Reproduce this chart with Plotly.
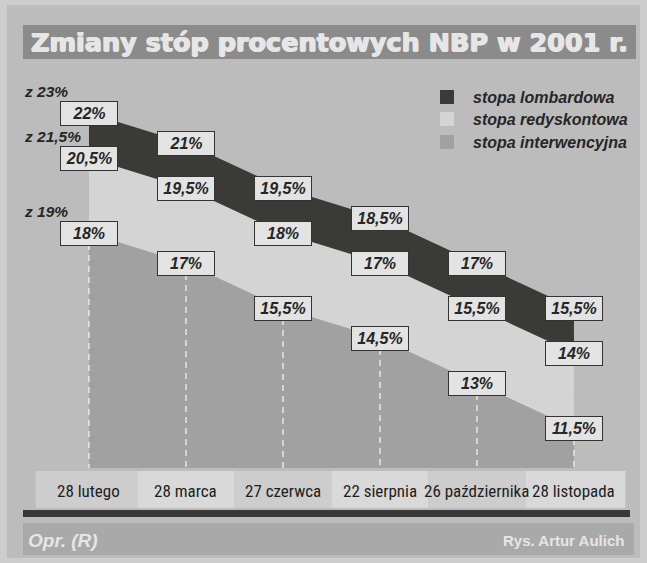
import plotly.graph_objects as go

# ---- data ----
dates = ["28 lutego", "28 marca", "27 czerwca", "22 sierpnia", "26 października", "28 listopada"]
lombardowa = [22, 21, 19.5, 18.5, 17, 15.5]
redyskontowa = [20.5, 19.5, 18, 17, 15.5, 14]
interwencyjna = [18, 17, 15.5, 14.5, 13, 11.5]
previous_labels = ["z 23%", "z 21,5%", "z 19%"]
previous_values = [23, 21.5, 19]
series_names = ["stopa lombardowa", "stopa redyskontowa", "stopa interwencyjna"]
title_text = "Zmiany stóp procentowych NBP w 2001 r."
footer_left = "Opr. (R)"
footer_right = "Rys. Artur Aulich"

# ---- layout constants ----
W, H = 647, 563
BASE = 10.17          # bottom of the filled areas (value scale)
X_RANGE = [-0.9175, 5.753]
Y_RANGE = [7.0, 25.767]

C_BG_OUT = "#cdcdcd"
C_PANEL = "#bcbcbc"
C_LOMB = "#3a3a36"
C_REDY = "#d4d4d4"
C_INTW = "#a1a1a1"
C_TEXT = "#262626"
C_BOX = "#e3e3e3"
DATE_FONT = "Roboto Condensed, DejaVu Sans Condensed, Liberation Sans Narrow, sans-serif"

def px(x):
    return x / W

def py(y):
    return 1 - y / H

def fmt(v):
    s = ("%g" % v).replace(".", ",")
    return s + "%"

xs = list(range(len(dates)))

fig = go.Figure()
fig.add_trace(go.Scatter(x=xs, y=[BASE] * len(xs), mode="lines",
                         line=dict(width=0), hoverinfo="skip", showlegend=False))
fig.add_trace(go.Scatter(x=xs, y=interwencyjna, mode="lines", fill="tonexty",
                         fillcolor=C_INTW, line=dict(width=0, color=C_INTW),
                         name=series_names[2], showlegend=False))
fig.add_trace(go.Scatter(x=xs, y=redyskontowa, mode="lines", fill="tonexty",
                         fillcolor=C_REDY, line=dict(width=0, color=C_REDY),
                         name=series_names[1], showlegend=False))
fig.add_trace(go.Scatter(x=xs, y=lombardowa, mode="lines", fill="tonexty",
                         fillcolor=C_LOMB, line=dict(width=0, color=C_LOMB),
                         name=series_names[0], showlegend=False))

shapes = []
annotations = []

# panel
shapes.append(dict(type="rect", xref="paper", yref="paper", x0=px(7), x1=px(640),
                   y0=py(558), y1=py(5), fillcolor=C_PANEL, line=dict(width=0), layer="below"))
# title bar
shapes.append(dict(type="rect", xref="paper", yref="paper", x0=px(23), x1=px(636),
                   y0=py(59), y1=py(25), fillcolor="#8b8b8b", line=dict(width=0), layer="below"))
annotations.append(dict(xref="paper", yref="paper", x=px(329), y=py(42), text="<b>" + title_text + "</b>",
                        showarrow=False, xanchor="center", yanchor="middle",
                        font=dict(family="DejaVu Sans", size=25.5, color="#e6e6e6",
                                  shadow="0.7px 0 0 #e6e6e6, -0.7px 0 0 #e6e6e6, 0 0.5px 0 #e6e6e6")))

# dashed verticals in interwencyjna area
for i, v in zip(xs, interwencyjna):
    shapes.append(dict(type="line", xref="x", yref="y", x0=i, x1=i, y0=v, y1=BASE,
                       line=dict(color="#e6e6e6", width=1.5, dash="6px,5px"), layer="above"))

# date band cells
for i, d in enumerate(dates):
    shapes.append(dict(type="rect", xref="x", yref="paper", x0=i - 0.55 if i == 0 else i - 0.5,
                       x1=i + 0.5 if i < len(dates) - 1 else i + 0.53,
                       y0=py(508), y1=py(471),
                       fillcolor="#cdcdcd" if i % 2 == 0 else "#d9d9d9",
                       line=dict(width=0), layer="above"))
    annotations.append(dict(xref="x", yref="paper", x=i, y=py(491), text=d, showarrow=False,
                            xanchor="center", yanchor="middle",
                            font=dict(family=DATE_FONT, size=17, color="#1e1e1e")))
# dark rule
shapes.append(dict(type="rect", xref="paper", yref="paper", x0=px(23), x1=px(630),
                   y0=py(517), y1=py(510), fillcolor="#383838", line=dict(width=0), layer="above"))
# footer bar
shapes.append(dict(type="rect", xref="paper", yref="paper", x0=px(23), x1=px(634),
                   y0=py(555), y1=py(523), fillcolor="#a9a9a9", line=dict(width=0), layer="above"))
annotations.append(dict(xref="paper", yref="paper", x=px(26), y=py(540), text="<b><i>" + footer_left + "</i></b>",
                        showarrow=False, xanchor="left", yanchor="middle",
                        font=dict(family="Liberation Sans", size=19, color="#e6e6e6")))
annotations.append(dict(xref="paper", yref="paper", x=px(626), y=py(540), text="<b>" + footer_right + "</b>",
                        showarrow=False, xanchor="right", yanchor="middle",
                        font=dict(family="Liberation Sans", size=15, color="#e6e6e6")))

# legend
leg_colors = [C_LOMB, C_REDY, C_INTW]
leg_y = [97, 119, 142]
for name, col, yy in zip(series_names, leg_colors, leg_y):
    shapes.append(dict(type="rect", xref="paper", yref="paper", x0=px(440), x1=px(454),
                       y0=py(yy + 7), y1=py(yy - 7), fillcolor=col, line=dict(width=0), layer="above"))
    annotations.append(dict(xref="paper", yref="paper", x=px(471), y=py(yy), text="<b><i>" + name + "</i></b>",
                            showarrow=False, xanchor="left", yanchor="middle",
                            font=dict(family="Liberation Sans", size=16, color=C_TEXT)))

# previous-rate labels
for lab, v in zip(previous_labels, previous_values):
    annotations.append(dict(xref="paper", yref="y", x=px(22), y=v, yshift=-8, text="<b><i>" + lab + "</i></b>",
                            showarrow=False, xanchor="left", yanchor="middle",
                            font=dict(family="Liberation Sans", size=15.5, color=C_TEXT)))

# value boxes
for series in (lombardowa, redyskontowa, interwencyjna):
    for i, v in zip(xs, series):
        annotations.append(dict(xref="x", yref="y", x=i, y=v, text="<b><i>" + fmt(v) + "</i></b>",
                                showarrow=False, xanchor="center", yanchor="middle",
                                width=54, height=21, borderpad=1, borderwidth=1,
                                bordercolor="#333333", bgcolor=C_BOX,
                                font=dict(family="Liberation Sans", size=16, color=C_TEXT)))

fig.update_layout(
    width=W, height=H,
    margin=dict(l=0, r=0, t=0, b=0),
    paper_bgcolor=C_BG_OUT, plot_bgcolor="rgba(0,0,0,0)",
    xaxis=dict(range=X_RANGE, visible=False, fixedrange=True),
    yaxis=dict(range=Y_RANGE, visible=False, fixedrange=True),
    shapes=shapes, annotations=annotations,
    showlegend=False,
)

fig.write_html("out.html", config={"displayModeBar": False},
               post_script="document.body.style.margin='0';document.body.style.overflow='hidden';")
